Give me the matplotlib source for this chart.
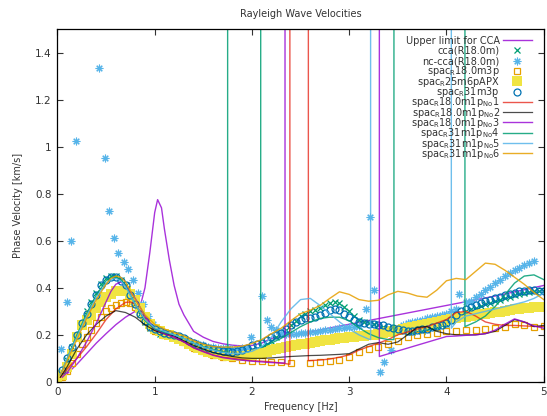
import numpy as np
import matplotlib
matplotlib.use("Agg")
import matplotlib.pyplot as plt

plt.rcParams['font.family'] = ['DejaVu Sans']
plt.rcParams['mathtext.fontset'] = 'dejavusans'

# 周波数グリッド (マーカー系列)
f_fine = np.round(np.arange(0, 101) * 0.05, 2)
f_sq = [0.05, 0.10, 0.15, 0.20, 0.25, 0.30, 0.35, 0.40, 0.45, 0.50,
        0.55, 0.60, 0.65, 0.70, 0.75, 0.80, 0.85, 0.90, 0.95, 1.00,
        1.1, 1.2, 1.3, 1.4, 1.5, 1.6, 1.7, 1.8, 1.9, 2.0,
        2.1, 2.2, 2.3, 2.4, 2.5, 2.6, 2.7, 2.8, 2.9, 3.0,
        3.1, 3.2, 3.3, 3.4, 3.5, 3.6, 3.7, 3.8, 3.9, 4.0,
        4.1, 4.2, 4.3, 4.4, 4.5, 4.6, 4.7, 4.8, 4.9, 5.0]

nan = np.nan
# spac31m3p (circles)
v_31m3p = [nan,
    0.05, 0.10, 0.15, 0.20, 0.25, 0.29, 0.33, 0.37, 0.41, 0.435,
    0.445, 0.445, 0.43, 0.41, 0.37, 0.33, 0.29, 0.26, 0.235, 0.225,
    0.215, 0.21, 0.205, 0.20, 0.195, 0.185, 0.175, 0.165, 0.158, 0.152,
    0.145, 0.14, 0.135, 0.132, 0.13, 0.128, 0.13, 0.135, 0.142, 0.155,
    0.16, 0.167, 0.177, 0.19, 0.20, 0.21, 0.225, 0.24, 0.255, 0.265,
    0.27, 0.27, 0.275, 0.285, 0.295, 0.305, 0.31, 0.305, 0.29, 0.275,
    0.262, 0.255, 0.25, 0.248, 0.245, 0.243, 0.24, 0.235, 0.23, 0.225,
    0.22, 0.218, 0.218, 0.22, 0.223, 0.227, 0.232, 0.237, 0.243, 0.25,
    0.265, 0.285, 0.30, 0.31, 0.318, 0.325, 0.335, 0.342, 0.348, 0.355,
    0.362, 0.368, 0.375, 0.38, 0.385, 0.388, 0.39, 0.39, 0.388, 0.385]

# cca(R18.0m)
v_cca = [nan,
    0.04, 0.095, 0.15, 0.20, 0.25, 0.30, 0.34, 0.38, 0.415, 0.44,
    0.45, 0.45, 0.435, 0.41, 0.375, 0.33, 0.29, 0.255, 0.23, 0.215,
    0.205, 0.20, 0.195, 0.19, 0.18, 0.17, 0.16, 0.152, 0.145, 0.14,
    0.135, 0.13, 0.126, 0.122, 0.12, 0.118, 0.118, 0.12, 0.125, 0.132,
    0.14, 0.15, 0.16, 0.175, 0.19, 0.205, 0.22, 0.24, 0.26, 0.28,
    0.29, 0.30, 0.305, 0.315, 0.325, 0.335, 0.34, 0.335, 0.32, 0.30,
    0.28, 0.265, 0.255, 0.25, 0.245, 0.24, 0.235, 0.23, 0.225, 0.22,
    0.215, 0.212, 0.212, 0.215, 0.218, 0.222, 0.228, 0.233, 0.24, 0.248,
    0.26, 0.275, 0.29, 0.30, 0.308, 0.315, 0.323, 0.33, 0.337, 0.343,
    0.35, 0.357, 0.363, 0.37, 0.375, 0.38, 0.383, 0.385, 0.385, 0.385]

# spac25m6pAPX (filled squares)
v_25m6p = [0.0,
    0.03, 0.065, 0.12, 0.19, 0.24, 0.265, 0.285, 0.315, 0.34, 0.36,
    0.375, 0.385, 0.388, 0.385, 0.375, 0.35, 0.315, 0.275, 0.245, 0.225,
    0.215, 0.205, 0.20, 0.192, 0.183, 0.172, 0.162, 0.152, 0.143, 0.135,
    0.128, 0.122, 0.117, 0.113, 0.11, 0.108, 0.108, 0.11, 0.112, 0.115,
    0.118, 0.122, 0.128, 0.135, 0.14, 0.145, 0.15, 0.153, 0.157, 0.16,
    0.163, 0.166, 0.17, 0.173, 0.177, 0.18, 0.183, 0.186, 0.188, 0.19,
    0.192, 0.194, 0.196, 0.198, 0.20, 0.203, 0.207, 0.212, 0.217, 0.222,
    0.226, 0.23, 0.234, 0.238, 0.242, 0.246, 0.25, 0.254, 0.258, 0.262,
    0.266, 0.27, 0.274, 0.278, 0.281, 0.284, 0.287, 0.29, 0.293, 0.296,
    0.299, 0.302, 0.305, 0.308, 0.311, 0.313, 0.315, 0.317, 0.319, 0.32]

# spac18.0m3p (open squares)
v_18m3p = [0.02, 0.045, 0.08, 0.12, 0.16, 0.19, 0.22, 0.25, 0.275, 0.30,
    0.315, 0.325, 0.335, 0.34, 0.335, 0.32, 0.29, 0.26, 0.235, 0.215,
    0.20, 0.19, 0.17, 0.145, 0.13, 0.115, 0.105, 0.10, 0.095, 0.09,
    0.088, 0.085, 0.083, 0.08, nan, 0.082, 0.085, 0.09, 0.095, 0.105,
    0.125, 0.14, 0.15, 0.16, 0.175, 0.19, 0.20, 0.205, 0.21, 0.215,
    0.218, 0.22, 0.222, 0.225, 0.228, 0.235, 0.245, 0.24, 0.235, 0.237]

# nc-cca(R18.0m)
f_nc = [0.04, 0.095, 0.135, 0.19, 0.43, 0.49, 0.53, 0.58, 0.625, 0.68,
        0.73, 0.78, 0.83, 0.88, 0.93, 0.98, 1.05, 1.1, 1.15, 1.2,
        1.25, 1.3, 1.35, 1.4, 1.45, 1.5, 1.55, 1.6, 1.65, 1.7,
        1.75, 1.8, 1.85, 1.9, 1.95, 1.99, 2.1, 2.15, 2.2, 2.25,
        2.3, 2.35, 2.4, 2.45, 2.5, 2.55, 2.6, 2.65, 2.7, 2.75,
        2.8, 2.85, 2.9, 2.95, 3.0, 3.05, 3.1, 3.17, 3.21, 3.26,
        3.32, 3.36, 3.43, 3.5, 3.55, 3.6, 3.65, 3.7, 3.75, 3.8,
        3.85, 3.9, 3.95, 4.0, 4.05, 4.1, 4.13, 4.2, 4.25, 4.3,
        4.35, 4.4, 4.45, 4.5, 4.55, 4.6, 4.65, 4.7, 4.75, 4.8,
        4.85, 4.9]
v_nc = [0.14, 0.34, 0.60, 1.025, 1.335, 0.95, 0.725, 0.61, 0.55, 0.51,
        0.48, 0.435, 0.38, 0.33, 0.28, 0.245, 0.22, 0.21, 0.205, 0.20,
        0.19, 0.18, 0.17, 0.165, 0.16, 0.155, 0.15, 0.148, 0.145, 0.143,
        0.142, 0.14, 0.14, 0.142, 0.145, 0.19, 0.367, 0.264, 0.235, 0.22,
        0.21, 0.205, 0.205, 0.205, 0.208, 0.21, 0.212, 0.214, 0.217, 0.22,
        0.222, 0.225, 0.228, 0.23, 0.233, 0.235, 0.238, 0.31, 0.70, 0.39,
        0.044, 0.086, 0.136, 0.23, 0.24, 0.25, 0.255, 0.26, 0.265, 0.27,
        0.275, 0.28, 0.285, 0.29, 0.30, 0.31, 0.375, 0.34, 0.345, 0.36,
        0.375, 0.39, 0.405, 0.42, 0.435, 0.45, 0.465, 0.475, 0.485, 0.495,
        0.505, 0.515]

# Upper limit for CCA
f_ul = [0.05, 0.1, 0.2, 0.3, 0.4, 0.5, 0.6, 0.7, 0.8, 0.85, 0.9, 0.95, 1.0, 1.03,
        1.07, 1.1, 1.15, 1.2, 1.25, 1.3, 1.4, 1.5, 1.6, 1.7, 1.8, 1.9, 2.0, 2.1,
        2.2, 2.5, 3.0, 3.5, 4.0, 4.5, 5.0]
v_ul = [0.02, 0.035, 0.075, 0.12, 0.165, 0.205, 0.243, 0.275, 0.30, 0.32, 0.40, 0.55, 0.72, 0.775,
        0.74, 0.65, 0.52, 0.41, 0.33, 0.285, 0.215, 0.19, 0.172, 0.162, 0.156, 0.153, 0.155, 0.165,
        0.185, 0.205, 0.245, 0.285, 0.325, 0.365, 0.41]

# spac18.0m1p No1
f_no1 = [0.03, 0.1, 0.2, 0.3, 0.4, 0.5, 0.6, 0.7, 0.75, 0.8, 0.9, 1.0, 1.1, 1.2,
         1.3, 1.4, 1.5, 1.6, 1.7, 1.8, 1.9, 2.0, 2.1, 2.2, 2.3, 2.39, 2.39, 2.58,
         2.58, 2.7, 2.8, 2.9, 3.0, 3.1, 3.2, 3.3, 3.4, 3.5, 3.6, 3.7, 3.8, 3.9,
         4.0, 4.1, 4.2, 4.3, 4.4, 4.5, 4.6, 4.7, 4.8, 4.9, 5.0]
v_no1 = [0.02, 0.055, 0.10, 0.15, 0.205, 0.265, 0.31, 0.338, 0.34, 0.33, 0.27, 0.22, 0.205, 0.19,
         0.17, 0.145, 0.13, 0.115, 0.105, 0.10, 0.095, 0.09, 0.088, 0.085, 0.08, 0.075, 10, 10,
         0.09, 0.093, 0.097, 0.105, 0.115, 0.135, 0.15, 0.165, 0.18, 0.20, 0.212, 0.225, 0.235, 0.25,
         0.265, 0.295, 0.30, 0.28, 0.255, 0.245, 0.24, 0.24, 0.238, 0.236, 0.235]

# spac18.0m1p No2
f_no2 = [0.03, 0.1, 0.2, 0.3, 0.4, 0.5, 0.6, 0.7, 0.8, 0.9, 1.0, 1.1, 1.2, 1.3,
         1.4, 1.5, 1.6, 1.7, 1.8, 1.9, 2.0, 2.1, 2.2, 2.3, 2.4, 2.5, 2.6, 2.7,
         2.8, 2.9, 3.0, 3.1, 3.2, 3.3, 3.4, 3.5, 3.6, 3.7, 3.8, 3.9, 4.0, 4.1,
         4.2, 4.3, 4.4, 4.5, 4.6, 4.7, 4.8, 4.9, 5.0]
v_no2 = [0.02, 0.065, 0.14, 0.20, 0.245, 0.28, 0.303, 0.295, 0.275, 0.243, 0.218, 0.205, 0.195, 0.175,
         0.155, 0.14, 0.125, 0.115, 0.108, 0.102, 0.10, 0.10, 0.102, 0.105, 0.108, 0.11, 0.112, 0.113,
         0.115, 0.117, 0.12, 0.14, 0.16, 0.167, 0.16, 0.17, 0.20, 0.232, 0.235, 0.215, 0.205, 0.20,
         0.20, 0.20, 0.205, 0.215, 0.24, 0.265, 0.255, 0.235, 0.24]

# spac18.0m1p No3
f_no3 = [0.05, 0.1, 0.2, 0.3, 0.4, 0.5, 0.55, 0.6, 0.65, 0.7, 0.8, 0.9, 1.0, 1.1,
         1.2, 1.3, 1.4, 1.5, 1.6, 1.7, 1.8, 1.9, 2.0, 2.1, 2.2, 2.34, 2.34, 3.31,
         3.31, 4.0, 4.1, 4.2, 4.3, 4.4, 4.5, 4.6, 4.7, 4.8, 4.9, 5.0]
v_no3 = [0.02, 0.04, 0.10, 0.17, 0.25, 0.34, 0.385, 0.415, 0.425, 0.41, 0.355, 0.28, 0.225, 0.205,
         0.19, 0.17, 0.145, 0.128, 0.113, 0.103, 0.097, 0.092, 0.088, 0.085, 0.082, 0.08, 10, 10,
         0.108, 0.193, 0.195, 0.198, 0.20, 0.205, 0.22, 0.245, 0.268, 0.255, 0.238, 0.228]

# spac31m1p No4
f_no4 = [0.03, 0.1, 0.2, 0.3, 0.4, 0.5, 0.55, 0.6, 0.65, 0.7, 0.8, 0.9, 1.0, 1.1,
         1.2, 1.3, 1.4, 1.5, 1.6, 1.7, 1.75, 1.75, 2.09, 2.09, 2.2, 2.3, 2.4, 2.5,
         2.6, 2.7, 2.8, 2.9, 3.0, 3.1, 3.2, 3.3, 3.4, 3.46, 3.46, 4.19, 4.19, 4.3,
         4.4, 4.5, 4.6, 4.7, 4.8, 4.9, 5.0]
v_no4 = [0.03, 0.10, 0.20, 0.29, 0.37, 0.43, 0.445, 0.445, 0.435, 0.41, 0.33, 0.26, 0.225, 0.21,
         0.20, 0.185, 0.165, 0.15, 0.138, 0.128, 0.125, 10, 10, 0.145, 0.165, 0.185, 0.21, 0.235,
         0.255, 0.27, 0.275, 0.275, 0.26, 0.23, 0.205, 0.188, 0.18, 0.18, 10, 10, 0.235, 0.255,
         0.28, 0.32, 0.37, 0.42, 0.45, 0.455, 0.435]

# spac31m1p No5
f_no5 = [0.03, 0.1, 0.2, 0.3, 0.4, 0.5, 0.55, 0.6, 0.65, 0.7, 0.8, 0.9, 1.0, 1.1,
         1.2, 1.3, 1.4, 1.5, 1.6, 1.7, 1.8, 1.9, 2.0, 2.1, 2.2, 2.3, 2.4, 2.5,
         2.6, 2.7, 2.8, 2.9, 3.0, 3.1, 3.2, 3.22, 3.22, 4.05, 4.05, 4.1, 4.2, 4.3,
         4.4, 4.5, 4.6, 4.7, 4.8, 4.9, 5.0]
v_no5 = [0.03, 0.10, 0.19, 0.28, 0.36, 0.42, 0.435, 0.44, 0.43, 0.405, 0.33, 0.265, 0.23, 0.215,
         0.20, 0.185, 0.165, 0.148, 0.135, 0.125, 0.12, 0.122, 0.13, 0.15, 0.19, 0.255, 0.31, 0.35,
         0.355, 0.325, 0.29, 0.255, 0.225, 0.20, 0.182, 0.18, 10, 10, 0.228, 0.255, 0.28, 0.29,
         0.30, 0.31, 0.32, 0.33, 0.34, 0.355, 0.377]

# spac31m1p No6
f_no6 = [0.03, 0.1, 0.2, 0.3, 0.4, 0.5, 0.55, 0.6, 0.65, 0.7, 0.8, 0.9, 1.0, 1.1,
         1.2, 1.3, 1.4, 1.5, 1.6, 1.7, 1.8, 1.9, 2.0, 2.1, 2.2, 2.3, 2.4, 2.5,
         2.6, 2.7, 2.8, 2.9, 3.0, 3.1, 3.2, 3.3, 3.4, 3.5, 3.6, 3.7, 3.8, 3.9,
         4.0, 4.1, 4.2, 4.3, 4.4, 4.5, 4.6, 4.7, 4.8, 4.9, 5.0]
v_no6 = [0.03, 0.09, 0.18, 0.27, 0.35, 0.415, 0.44, 0.45, 0.445, 0.425, 0.35, 0.285, 0.245, 0.225,
         0.21, 0.195, 0.175, 0.16, 0.15, 0.148, 0.148, 0.152, 0.163, 0.18, 0.205, 0.228, 0.26, 0.29,
         0.305, 0.325, 0.355, 0.383, 0.372, 0.35, 0.343, 0.347, 0.37, 0.385, 0.378, 0.365, 0.36, 0.39,
         0.43, 0.44, 0.435, 0.47, 0.505, 0.50, 0.475, 0.445, 0.415, 0.38, 0.35]

purple = '#9400d3'
green = '#009e73'
skyblue = '#56b4e9'
orange = '#e69f00'
yellow = '#f0e442'
blue = '#0072b2'
red = '#e51e10'

fig = plt.figure(figsize=(5.47, 4.16), dpi=100)
ax = fig.add_axes([0.105, 0.082, 0.889, 0.848])

# (x, y, label, style)
series = [
    (f_ul, v_ul, 'Upper limit for CCA', dict(color=purple, lw=1.0, alpha=0.8)),
    (f_fine, v_cca, 'cca(R18.0m)', dict(ls='none', marker='x', ms=4.5, mew=0.9, color=green)),
    (f_nc, v_nc, 'nc-cca(R18.0m)', dict(ls='none', marker=(8, 2, 0), ms=5.5, mew=0.8, color=skyblue)),
    (f_sq, v_18m3p, 'spac$_{\\rm R}$18.0m3p',
     dict(ls='none', marker='s', ms=5, mew=0.9, mfc='none', color=orange)),
    (f_fine, v_25m6p, 'spac$_{\\rm R}$25m6pAPX', dict(ls='none', marker='s', ms=6.5, mew=0, color=yellow)),
    (f_fine, v_31m3p, 'spac$_{\\rm R}$31m3p',
     dict(ls='none', marker='o', ms=5, mew=0.9, mfc='none', color=blue)),
    (f_no1, v_no1, 'spac$_{\\rm R}$18.0m1p$_{\\rm No}$1', dict(color=red, lw=1.0, alpha=0.75)),
    (f_no2, v_no2, 'spac$_{\\rm R}$18.0m1p$_{\\rm No}$2', dict(color='black', lw=0.9, alpha=0.7)),
    (f_no3, v_no3, 'spac$_{\\rm R}$18.0m1p$_{\\rm No}$3', dict(color=purple, lw=1.0, alpha=0.8)),
    (f_no4, v_no4, 'spac$_{\\rm R}$31m1p$_{\\rm No}$4', dict(color=green, lw=1.0, alpha=0.85)),
    (f_no5, v_no5, 'spac$_{\\rm R}$31m1p$_{\\rm No}$5', dict(color=skyblue, lw=1.0, alpha=0.85)),
    (f_no6, v_no6, 'spac$_{\\rm R}$31m1p$_{\\rm No}$6', dict(color=orange, lw=1.0, alpha=0.85)),
]

for x, y, lab, st in series:
    ax.plot(x, y, label=lab, **st)

# 凡例 (gnuplot風に右寄せ、等間隔)
y0, dy = 0.969, 0.0292
for i, (x, y, lab, st) in enumerate(series):
    yc = y0 - i * dy
    if st.get('ls') == 'none':
        ax.plot([0.9455], [yc], transform=ax.transAxes, **st)
    else:
        ax.plot([0.916, 0.975], [yc, yc], transform=ax.transAxes, **st)
    ax.text(0.9096, yc - 0.0099, lab, transform=ax.transAxes, ha='right', va='baseline',
            fontsize=7, color='#333333')

ax.set_xlim(0, 5)
ax.set_ylim(0, 1.5)
ax.set_xticks([0, 1, 2, 3, 4, 5])
ax.set_yticks([0, 0.2, 0.4, 0.6, 0.8, 1.0, 1.2, 1.4])
ax.set_yticklabels(['0', '0.2', '0.4', '0.6', '0.8', '1', '1.2', '1.4'])
ax.tick_params(direction='in', length=4, width=0.8, top=True, right=True,
               labelsize=7.5, pad=4, colors='#333333')
for s in ax.spines.values():
    s.set_linewidth(0.9)

ax.set_title('Rayleigh Wave Velocities', fontsize=7, pad=9, color='#333333')
ax.set_xlabel('Frequency [Hz]', fontsize=7, labelpad=3, color='#333333')
ax.set_ylabel('Phase Velocity [km/s]', fontsize=7, labelpad=9, color='#333333')

fig.savefig('out.png', dpi=100)
